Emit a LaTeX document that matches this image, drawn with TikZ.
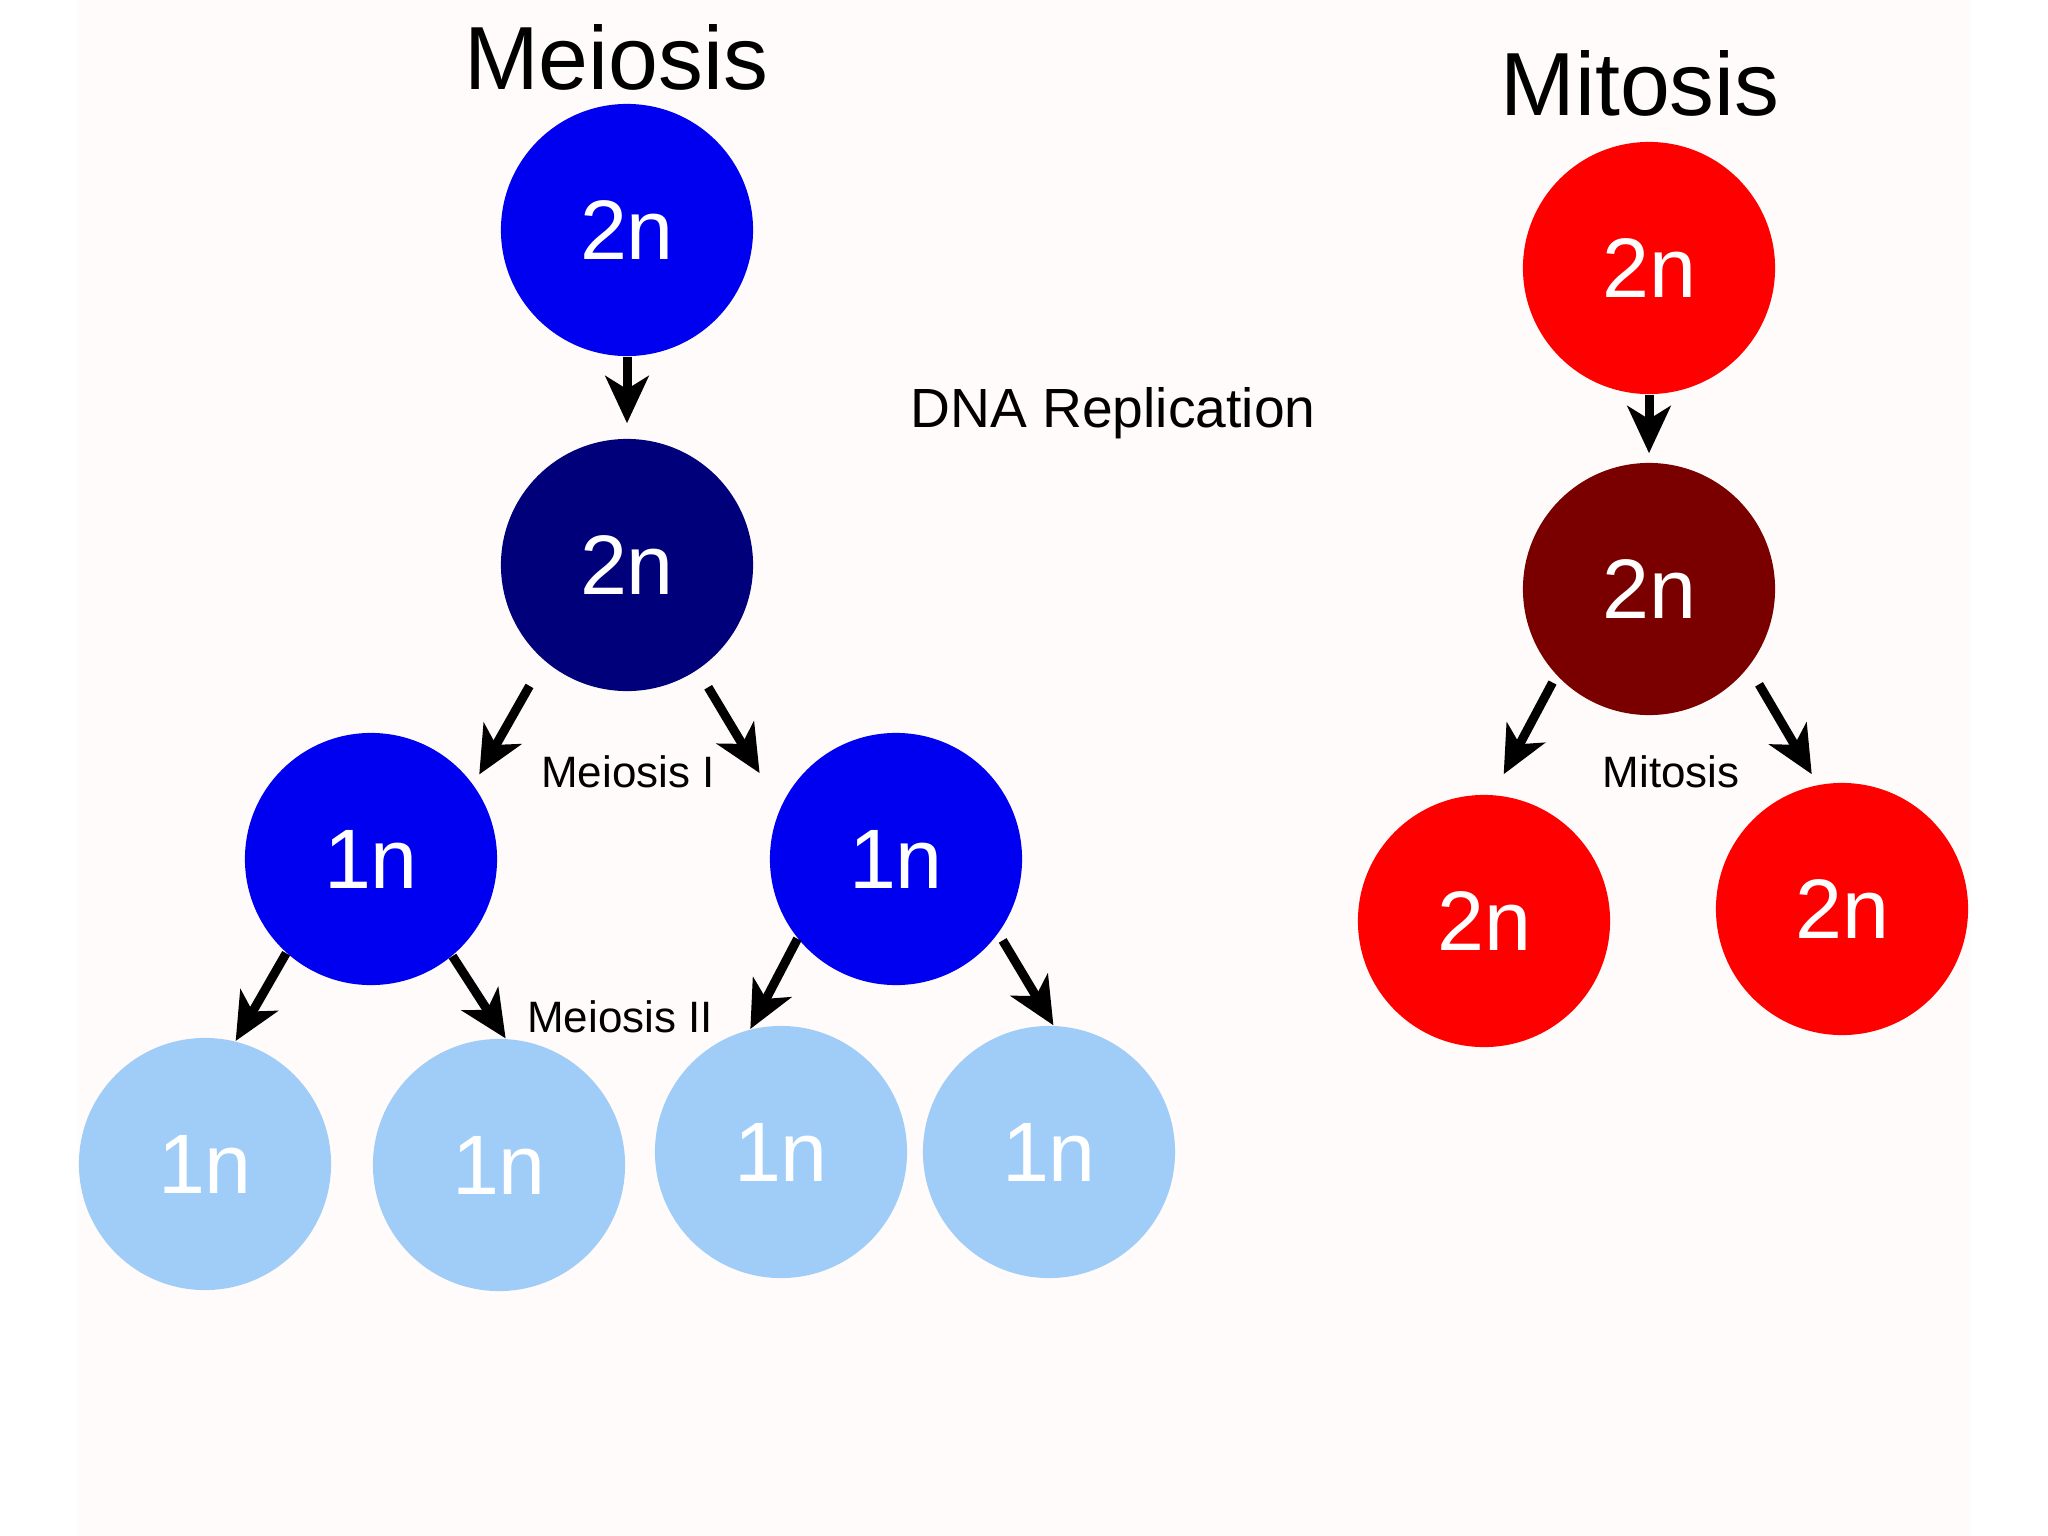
\documentclass[tikz,border=0pt]{standalone}
\usepackage{fontspec}
\setmainfont{Liberation Sans}
\usepackage{xcolor}
\usetikzlibrary{arrows.meta}
\definecolor{paper}{RGB}{255,251,250}
\definecolor{cellblue}{RGB}{0,0,240}
\definecolor{cellnavy}{RGB}{0,0,122}
\definecolor{cellpale}{RGB}{160,205,248}
\definecolor{cellred}{RGB}{255,0,0}
\definecolor{cellmaroon}{RGB}{122,0,0}
\begin{document}
\begin{tikzpicture}[x=0.01cm,y=-0.01cm,
    cell/.style={circle,minimum size=2.52cm,inner sep=0pt,text=white,
      font=\fontsize{24}{28}\selectfont},
    title/.style={anchor=base,font=\fontsize{25.5}{30}\selectfont},
    stage/.style={anchor=base,font=\fontsize{12.5}{15}\selectfont},
    flow/.style={-{Stealth[length=4.7mm,width=4.3mm,inset=1.3mm]},line width=0.9mm}
  ]
    \useasboundingbox (0,0) rectangle (2048,1536);
    \fill[white] (0,0) rectangle (2048,1536);
    \fill[paper] (78,0) rectangle (1970,1536);
    \node[title] (meiotitle) at (616,89) {Meiosis};
    \node[title] (mitotitle) at (1640,115) {Mitosis};
    \node[anchor=base,font=\fontsize{15.7}{19}\selectfont] (dna) at (1113,427) {DNA Replication};
    \node[cell,fill=cellblue] (meio) at (627,230) {2n};
    \node[cell,fill=cellnavy] (meiorep) at (627,565) {2n};
    \node[cell,fill=cellblue] (meioL) at (371,859) {1n};
    \node[cell,fill=cellblue] (meioR) at (896,859) {1n};
    \node[cell,fill=cellpale] (gam1) at (205,1164) {1n};
    \node[cell,fill=cellpale] (gam2) at (499,1165) {1n};
    \node[cell,fill=cellpale] (gam3) at (781,1152) {1n};
    \node[cell,fill=cellpale] (gam4) at (1049,1152) {1n};
    \node[cell,fill=cellred] (mito) at (1649,268) {2n};
    \node[cell,fill=cellmaroon] (mitorep) at (1649,589) {2n};
    \node[cell,fill=cellred] (mitoL) at (1484,921) {2n};
    \node[cell,fill=cellred] (mitoR) at (1842,909) {2n};
    \node[stage] (meiosisI) at (628,787) {Meiosis I};
    \node[stage] (meiosisII) at (620,1032) {Meiosis II};
    \node[stage] (mitosis) at (1671,787) {Mitosis};
    \draw[flow,shorten >=1.5mm] (meio.south) -- (meiorep.north);
    \draw[flow,shorten <=2.9mm,shorten >=1.15mm] (meiorep.229) -- (meioL.36.5);
    \draw[flow,shorten <=2mm,shorten >=4mm] (meiorep.304.7) -- (meioR.156.5);
    \draw[flow] (meioL.228.7) -- (gam1.76.2);
    \draw[flow] (meioL.310.5) -- (gam2.87.7);
    \draw[flow] (meioR.219.9) -- (gam3.104.1);
    \draw[flow,shorten <=0.8mm] (meioR.324) -- (gam4.88.2);
    \draw[flow,shorten >=0.9mm] (mito.south) -- (mitorep.north);
    \draw[flow,shorten <=0.8mm,shorten >=2.3mm] (mitorep.223.7) -- (mitoL.86.9);
    \draw[flow,shorten <=2mm,shorten >=1.2mm] (mitorep.322.6) -- (mitoR.101.9);
\end{tikzpicture}
\end{document}
